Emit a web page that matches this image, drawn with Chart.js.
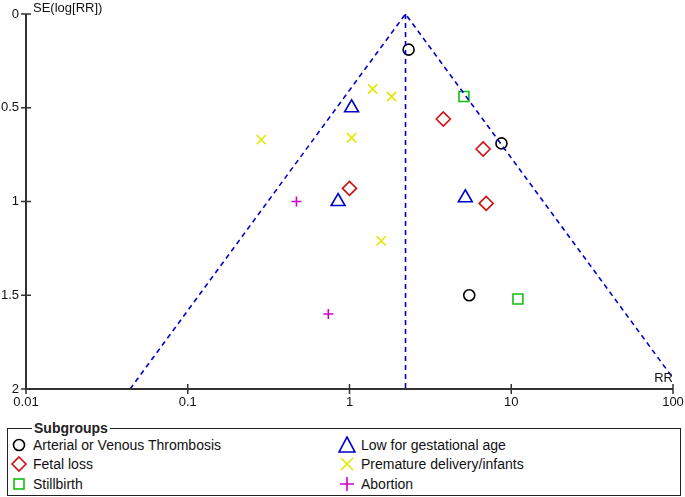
<!DOCTYPE html>
<html>
<head>
<meta charset="utf-8">
<script src="https://cdn.jsdelivr.net/npm/chart.js@4/dist/chart.umd.min.js"></script>
<style>
  body{margin:0;background:#fff;font-family:"Liberation Sans",Arial,sans-serif;}
  #wrap{position:relative;width:685px;height:420px;}
  #box{position:absolute;left:7px;top:428px;width:672px;height:66px;border:1.5px solid #222;box-sizing:content-box;}
  #title{position:absolute;left:24px;top:-9px;background:#fff;padding:0 2px;font-weight:bold;font-size:14px;line-height:16px;color:#222;}
  .row{position:absolute;height:20px;font-size:14px;line-height:20px;color:#111;white-space:nowrap;}
  .row svg{position:absolute;left:0;top:1px;}
  .row span{position:absolute;top:0;}
</style>
</head>
<body>
<div id="wrap"><canvas id="c" width="685" height="420"></canvas></div>
<div id="box"><div id="title">Subgroups</div></div>
<script>
// tick values
const xTicks=[0.01,0.1,1,10,100];
const yTicks=[0,0.5,1,1.5,2];

// subgroups: RR and SE(log RR)
const thrombRR=[2.32,8.7,5.5];
const thrombSE=[0.19,0.69,1.50];
const fetalRR=[3.8,6.7,1.0,7.0];
const fetalSE=[0.56,0.72,0.93,1.01];
const stillRR=[5.1,11.0];
const stillSE=[0.44,1.52];
const lowRR=[1.03,0.85,5.2];
const lowSE=[0.50,1.00,0.98];
const prematureRR=[1.39,1.82,0.285,1.03,1.57];
const prematureSE=[0.40,0.44,0.67,0.66,1.21];
const abortionRR=[0.47,0.74];
const abortionSE=[1.00,1.60];

// funnel outline and pooled line
const funnelX=[0.044,2.22,112];
const funnelY=[2,0,2];
const pooledX=[2.22,2.22];
const pooledY=[0,2];

const groups=[
  {label:'Arterial or Venous Thrombosis',x:thrombRR,y:thrombSE,style:'circle',r:5.5,color:'#000000',col:1},
  {label:'Fetal loss',x:fetalRR,y:fetalSE,style:'rectRot',r:7,color:'#d01010',col:1},
  {label:'Stillbirth',x:stillRR,y:stillSE,style:'rect',r:7,color:'#10c010',col:1},
  {label:'Low for gestational age',x:lowRR,y:lowSE,style:'triangle',r:8,color:'#0000cc',col:2},
  {label:'Premature delivery/infants',x:prematureRR,y:prematureSE,style:'crossRot',r:6.5,color:'#e6e600',col:2},
  {label:'Abortion',x:abortionRR,y:abortionSE,style:'cross',r:5,color:'#cc00cc',col:2}
];
const pts=(xs,ys)=>xs.map((v,i)=>({x:v,y:ys[i]}));

const datasets=[
  {type:'line',data:pts(funnelX,funnelY),borderColor:'#0000cc',borderWidth:1.6,borderDash:[5,4],pointRadius:0,fill:false,tension:0},
  {type:'line',data:pts(pooledX,pooledY),borderColor:'#0000cc',borderWidth:1.6,borderDash:[5,4],pointRadius:0,fill:false}
].concat(groups.map(g=>({type:'scatter',label:g.label,data:pts(g.x,g.y),pointStyle:g.style,pointRadius:g.r,
  borderColor:g.color,backgroundColor:'rgba(0,0,0,0)',pointBorderWidth:1.6,borderWidth:1.6})));

const FONT={family:'"Liberation Sans", Arial, sans-serif',size:13};

const axesPlugin={id:'axes',afterDraw(ch){
  const c=ch.ctx,a=ch.chartArea,sx=ch.scales.x,sy=ch.scales.y;
  c.save();c.strokeStyle='#333';c.lineWidth=2;
  c.beginPath();c.moveTo(a.left,a.top);c.lineTo(a.left,a.bottom);c.lineTo(a.right,a.bottom);c.stroke();
  c.lineWidth=1.5;c.beginPath();
  xTicks.forEach(v=>{const p=sx.getPixelForValue(v);c.moveTo(p,a.bottom-5);c.lineTo(p,a.bottom+5);});
  yTicks.forEach(v=>{const p=sy.getPixelForValue(v);c.moveTo(a.left-5,p);c.lineTo(a.left+5,p);});
  c.stroke();
  c.fillStyle='#111';c.font='13px "Liberation Sans", Arial, sans-serif';c.textBaseline='middle';
  c.textAlign='left';c.fillText('SE(log[RR])',33,8);
  c.textAlign='right';c.fillText('RR',673,378);
  c.restore();
}};

new Chart(document.getElementById('c'),{
  data:{datasets},
  options:{responsive:false,animation:false,
    layout:{padding:{top:14,right:12,left:0,bottom:0}},
    plugins:{legend:{display:false},tooltip:{enabled:false}},
    scales:{
      x:{type:'logarithmic',min:0.01,max:100,
        afterBuildTicks:s=>{s.ticks=xTicks.map(v=>({value:v}));},
        afterFit:s=>{s.height=31;s.paddingLeft=0;s.paddingRight=0;},
        grid:{display:false,drawTicks:false},border:{display:false},
        ticks:{color:'#111',font:FONT,padding:6,maxRotation:0,autoSkip:false,callback:v=>String(v)}},
      y:{type:'linear',reverse:true,min:0,max:2,
        afterBuildTicks:s=>{s.ticks=yTicks.map(v=>({value:v}));},
        afterFit:s=>{s.width=26;s.paddingTop=0;s.paddingBottom=0;},
        grid:{display:false,drawTicks:false},border:{display:false},
        ticks:{color:'#111',font:FONT,padding:7,callback:v=>String(v)}}
    }},
  plugins:[axesPlugin]
});

// HTML legend with symbol glyphs
function sym(g){
  const c=g.color,s='fill="none" stroke="'+c+'" stroke-width="1.6"';
  let b='';
  if(g.style==='circle')b='<circle cx="9" cy="9" r="5.5" '+s+'/>';
  if(g.style==='rectRot')b='<polygon points="9,2 16,9 9,16 2,9" '+s+'/>';
  if(g.style==='rect')b='<rect x="4" y="4" width="10" height="10" '+s+'/>';
  if(g.style==='triangle')b='<polygon points="9,1 17,16 1,16" '+s+'/>';
  if(g.style==='crossRot')b='<path d="M3,3 L15,15 M15,3 L3,15" '+s+'/>';
  if(g.style==='cross')b='<path d="M9,2 L9,16 M2,9 L16,9" '+s+'/>';
  return '<svg width="18" height="18">'+b+'</svg>';
}
const box=document.getElementById('box');
const colX={1:2,2:330};
const rowCount={1:0,2:0};
groups.forEach(g=>{
  const top=6+rowCount[g.col]*19.3; rowCount[g.col]++;
  box.insertAdjacentHTML('beforeend','<div class="row" style="left:'+colX[g.col]+'px;top:'+top+'px">'+sym(g)+'<span style="left:23px">'+g.label+'</span></div>');
});
</script>
</body>
</html>
